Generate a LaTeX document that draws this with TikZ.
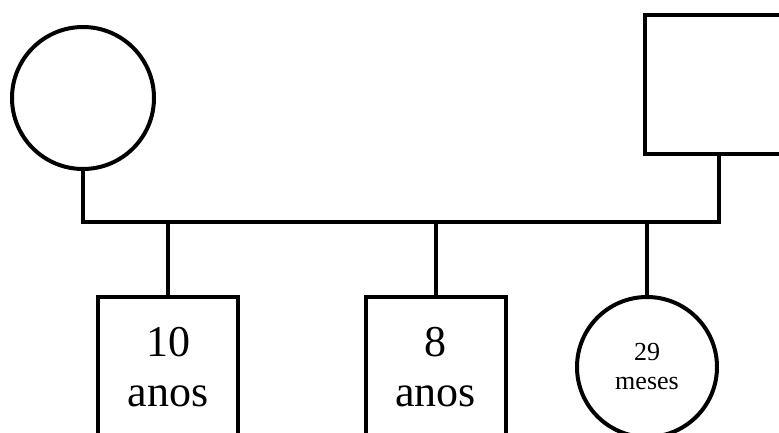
\documentclass[tikz,border=0pt]{standalone}
\usepackage{fontspec}
\setmainfont{Liberation Serif}
\begin{document}
\begin{tikzpicture}[x=1pt,y=-1pt,
  person/.style={draw=black,line width=4pt,fill=white,inner sep=0pt},
  female/.style={person,circle},
  male/.style={person,rectangle},
  link/.style={draw=black,line width=4pt,line join=miter,line cap=rect},
  bigtext/.style={font=\fontsize{44}{50}\selectfont,align=center},
  smalltext/.style={font=\fontsize{26}{29}\selectfont,align=center}]
\useasboundingbox (0,0) rectangle (779,432);
\node[female,minimum size=142pt] (mom) at (83,98) {};
\node[male,minimum width=148pt,minimum height=139pt] (dad) at (719,84.5) {};
\coordinate (bar) at (0,222);
\node[male,minimum width=140pt,minimum height=140pt,bigtext] (c1) at (168,367) {10\\anos};
\node[male,minimum width=140pt,minimum height=140pt,bigtext] (c2) at (435.5,367) {8\\anos};
\node[female,minimum size=140pt,smalltext] (c3) at (647,367) {29\\meses};
\draw[link] (mom.south) -- (mom.south |- bar) -- (dad.south |- bar) -- (dad.south);
\draw[link] (c1.north) -- (c1.north |- bar);
\draw[link] (c2.north) -- (c2.north |- bar);
\draw[link] (c3.north) -- (c3.north |- bar);
\end{tikzpicture}
\end{document}
